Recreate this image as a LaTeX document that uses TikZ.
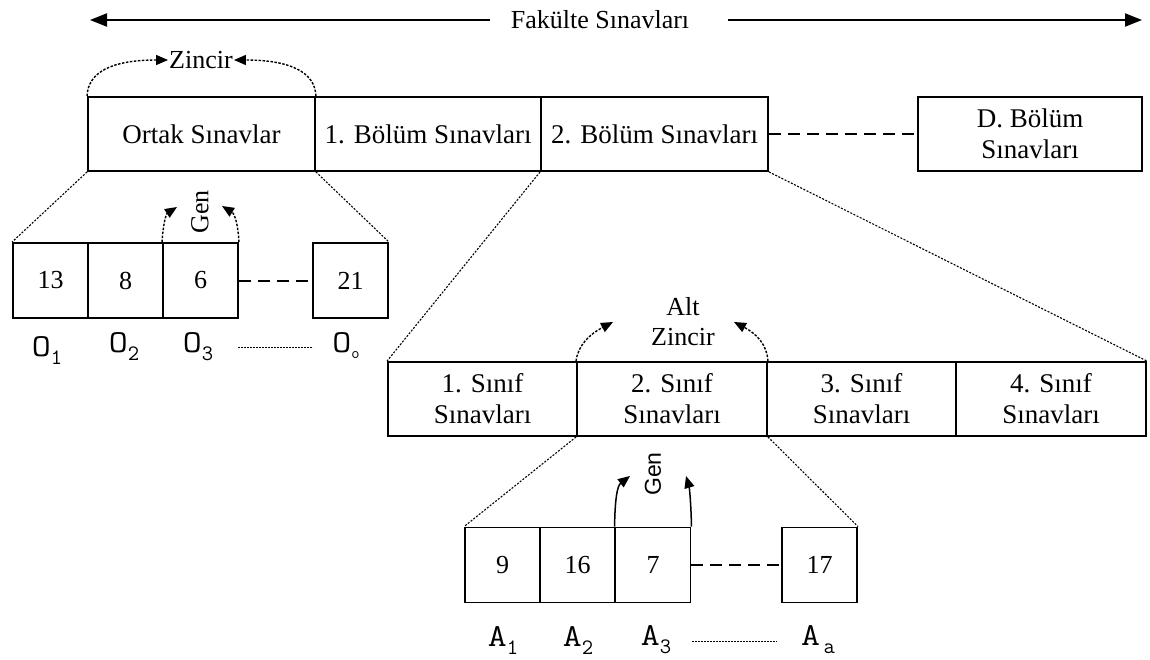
\documentclass[tikz,border=0pt]{standalone}
\usepackage{fontspec}
\setmainfont{Liberation Serif}
\newfontfamily\gensans{Liberation Sans}
\usetikzlibrary{arrows.meta}
\newcommand{\idx}[2]{{\ttfamily\scalebox{1.15}[1]{\fontsize{32}{32}\selectfont #1}\raisebox{-8pt}{\fontsize{22}{22}\selectfont #2}}}
\begin{document}
\begin{tikzpicture}[x=1pt,y=-1pt,
  box/.style={draw, line width=1.9pt, inner sep=0pt, align=center, font=\fontsize{27}{31}\selectfont},
  cell/.style={box, minimum width=75pt, minimum height=75pt, font=\fontsize{26}{30}\selectfont},
  linkdash/.style={line width=2pt, dash pattern=on 12pt off 7pt},
  zoomline/.style={line width=1.1pt, dash pattern=on 2pt off 1.5pt},
  chainarc/.style={line width=1.4pt, dash pattern=on 2.5pt off 1.5pt, -{Triangle[length=12pt,width=10pt]}},
  genarc/.style={line width=1.5pt, -{Triangle[length=12pt,width=10pt]}},
  toparrow/.style={line width=2pt, -{Triangle[length=17pt,width=13pt]}},
  txt/.style={inner sep=1pt, font=\fontsize{26}{30}\selectfont}]
\useasboundingbox (0,0) rectangle (1150,659);

% faculty-wide span
\node[txt] (fak) at (600,20) {Fakülte Sınavları};
\coordinate (fl) at (90,20);
\coordinate (fr) at (1142,20);
\draw[toparrow] (490,20) -- (fl);
\draw[toparrow] (728,20) -- (fr);

% department level
\node[box, minimum width=227pt, minimum height=74pt] (ortak) at (201.5,134) {Ortak Sınavlar};
\node[box, minimum width=226pt, minimum height=74pt] (b1) at (428,134) {1. Bölüm Sınavları};
\node[box, minimum width=227pt, minimum height=74pt] (b2) at (654.5,134) {2. Bölüm Sınavları};
\node[box, minimum width=224pt, minimum height=74pt] (bd) at (1030,134) {D. Bölüm\\[0pt]Sınavları};
\draw[linkdash] (b2.east) -- (bd.west);

% chain over the common exams
\node[txt] (zincir) at (201,60) {Zincir};
\draw[chainarc] (ortak.north west) .. controls (88,72) and (112,60) .. (zincir.west);
\draw[chainarc] (ortak.north east) .. controls (315,72) and (290,60) .. (zincir.east);

% common exam genes
\node[cell] (o1) at (50.5,280.5) {13};
\node[cell] (o2) at (125.5,280.5) {8};
\node[cell] (o3) at (200.5,280.5) {6};
\node[cell] (oo) at (350.5,280.5) {21};
\draw[linkdash] (o3.east) -- (oo.west);
\draw[zoomline] (ortak.south west) -- (o1.north west);
\draw[zoomline] (ortak.south east) -- (oo.north east);

\node[txt, rotate=90] (gen1) at (200,212) {Gen};
\draw[chainarc] (o3.north west) .. controls (163,225) and (166,214) .. (177,207);
\draw[chainarc] (o3.north east) .. controls (238,225) and (235,214) .. (222,206);

\node (lo1) at (47,351) {\idx{O}{1}};
\node (lo2) at (124,347) {\idx{O}{2}};
\node (lo3) at (198,347) {\idx{O}{3}};
\node (loo) at (346,347) {\idx{O}{\raisebox{2pt}{\fontsize{16}{16}\selectfont o}}};
\draw[line width=1pt, dash pattern=on 2pt off 1pt] (238,347) -- (313,347);

% class level inside department 2
\node[box, minimum width=189pt, minimum height=74pt] (s1) at (482.5,399) {1. Sınıf\\[0pt]Sınavları};
\node[box, minimum width=190pt, minimum height=74pt] (s2) at (672,399) {2. Sınıf\\[0pt]Sınavları};
\node[box, minimum width=189pt, minimum height=74pt] (s3) at (861.5,399) {3. Sınıf\\[0pt]Sınavları};
\node[box, minimum width=190pt, minimum height=74pt] (s4) at (1051,399) {4. Sınıf\\[0pt]Sınavları};
\draw[zoomline] (b2.south west) -- (s1.north west);
\draw[zoomline] (b2.south east) -- (s4.north east);

\node[txt, align=center] (alt) at (683,322) {Alt\\[0pt]Zincir};
\draw[chainarc] (s2.north west) .. controls (578,345) and (590,334) .. (613,322);
\draw[chainarc] (s2.north east) .. controls (767,345) and (757,334) .. (734,322);

% class exam genes
\node[cell] (a1) at (502.5,565) {9};
\node[cell] (a2) at (577.5,565) {16};
\node[cell] (a3) at (653,565) {7};
\node[cell] (aa) at (819.5,565) {17};
\draw[linkdash] (a3.east) -- (aa.west);
\draw[zoomline] (s2.south west) -- (a1.north west);
\draw[zoomline] (s2.south east) -- (aa.north east);

\node[inner sep=1pt, rotate=90, font=\gensans\fontsize{23}{26}\selectfont] (gen2) at (653,474) {Gen};
\draw[genarc] (a3.north west) .. controls (615,500) and (617,486) .. (630,476);
\draw[genarc] (a3.north east) .. controls (691,500) and (689,486) .. (686,476);

\node (la1) at (503,640) {\idx{A}{1}};
\node (la2) at (578,640) {\idx{A}{2}};
\node (la3) at (656,640) {\idx{A}{3}};
\node (laa) at (818,640) {\idx{A}{\,a}};
\draw[line width=1pt, dash pattern=on 2pt off 1pt] (692,641) -- (777,641);
\end{tikzpicture}
\end{document}
